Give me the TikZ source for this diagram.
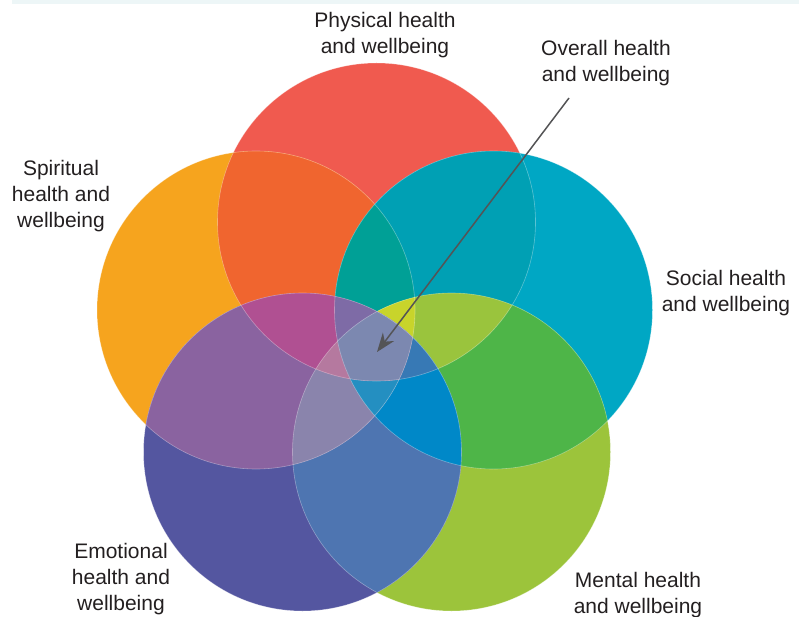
\documentclass[tikz,border=0pt]{standalone}
\usepackage{fontspec}
\setmainfont{Liberation Sans}
\usetikzlibrary{arrows.meta}
\definecolor{labeltext}{HTML}{231F20}
\definecolor{stripfill}{HTML}{EDF6F7}
\definecolor{arrowgrey}{HTML}{545456}
% singles
\definecolor{cR}{HTML}{F05A4F}
\definecolor{cO}{HTML}{F6A41E}
\definecolor{cT}{HTML}{00A7C4}
\definecolor{cG}{HTML}{9CC43B}
\definecolor{cP}{HTML}{5456A0}
% pairs
\definecolor{cRO}{HTML}{F0652F}
\definecolor{cRT}{HTML}{00A0B4}
\definecolor{cTG}{HTML}{4EB548}
\definecolor{cGP}{HTML}{4E75B1}
\definecolor{cPO}{HTML}{8A63A0}
% triples
\definecolor{cROT}{HTML}{00A096}
\definecolor{cRTG}{HTML}{9AC43D}
\definecolor{cTGP}{HTML}{0088C8}
\definecolor{cGPO}{HTML}{8A84AC}
\definecolor{cPOR}{HTML}{B05092}
% quadruples
\definecolor{cROTG}{HTML}{C8D42B}
\definecolor{cRTGP}{HTML}{3779B5}
\definecolor{cTGPO}{HTML}{248FC1}
\definecolor{cGPOR}{HTML}{B5799F}
\definecolor{cPORT}{HTML}{7E6BA6}
% all five
\definecolor{cAll}{HTML}{7C88B0}
\newcommand\vnR{(376.5,222) circle[radius=159pt]}
\newcommand\vnO{(256,310) circle[radius=159pt]}
\newcommand\vnT{(493.5,310) circle[radius=159pt]}
\newcommand\vnG{(451.5,452) circle[radius=159pt]}
\newcommand\vnP{(302.5,452) circle[radius=159pt]}
\begin{document}
\begin{tikzpicture}[x=1pt,y=-1pt,
  lbl/.style={font=\fontsize{21}{26}\selectfont, text=labeltext, align=center, inner sep=0pt, anchor=north},
  rim/.style={draw=white, draw opacity=0.35, line width=0.6pt},
  pointer/.style={draw=arrowgrey, line width=1.5pt, -{Stealth[length=19pt,width=14pt,inset=6pt]}}]
\useasboundingbox (0,0) rectangle (799,617);
\fill[stripfill] (12,0) rectangle (799,4);
% single circles
\fill[cR] \vnR; \fill[cO] \vnO; \fill[cT] \vnT; \fill[cG] \vnG; \fill[cP] \vnP;
% pairs
\begin{scope}\clip \vnR; \fill[cRO] \vnO;\end{scope}
\begin{scope}\clip \vnR; \fill[cRT] \vnT;\end{scope}
\begin{scope}\clip \vnT; \fill[cTG] \vnG;\end{scope}
\begin{scope}\clip \vnG; \fill[cGP] \vnP;\end{scope}
\begin{scope}\clip \vnP; \fill[cPO] \vnO;\end{scope}
% triples
\begin{scope}\clip \vnR; \clip \vnO; \fill[cROT] \vnT;\end{scope}
\begin{scope}\clip \vnR; \clip \vnT; \fill[cRTG] \vnG;\end{scope}
\begin{scope}\clip \vnT; \clip \vnG; \fill[cTGP] \vnP;\end{scope}
\begin{scope}\clip \vnG; \clip \vnP; \fill[cGPO] \vnO;\end{scope}
\begin{scope}\clip \vnP; \clip \vnO; \fill[cPOR] \vnR;\end{scope}
% quadruples
\begin{scope}\clip \vnR; \clip \vnO; \clip \vnT; \fill[cROTG] \vnG;\end{scope}
\begin{scope}\clip \vnR; \clip \vnT; \clip \vnG; \fill[cRTGP] \vnP;\end{scope}
\begin{scope}\clip \vnT; \clip \vnG; \clip \vnP; \fill[cTGPO] \vnO;\end{scope}
\begin{scope}\clip \vnG; \clip \vnP; \clip \vnO; \fill[cGPOR] \vnR;\end{scope}
\begin{scope}\clip \vnP; \clip \vnO; \clip \vnR; \fill[cPORT] \vnT;\end{scope}
% all five
\begin{scope}\clip \vnR; \clip \vnO; \clip \vnT; \clip \vnG; \fill[cAll] \vnP;\end{scope}
% faint rims
\path[rim] \vnR; \path[rim] \vnO; \path[rim] \vnT; \path[rim] \vnG; \path[rim] \vnP;
% labels
\node[lbl] (physical) at (385,12) {Physical health\\and wellbeing};
\node[lbl] (overall) at (606,40) {Overall health\\and wellbeing};
\node[lbl] (spiritual) at (61,160) {Spiritual\\health and\\wellbeing};
\node[lbl] (social) at (726,270) {Social health\\and wellbeing};
\node[lbl] (emotional) at (121,543) {Emotional\\health and\\wellbeing};
\node[lbl] (mental) at (638,572) {Mental health\\and wellbeing};
% arrow
\coordinate (arrowstart) at (569,98);
\coordinate (arrowtip) at (377,352);
\draw[pointer] (arrowstart) -- (arrowtip);
\end{tikzpicture}
\end{document}
